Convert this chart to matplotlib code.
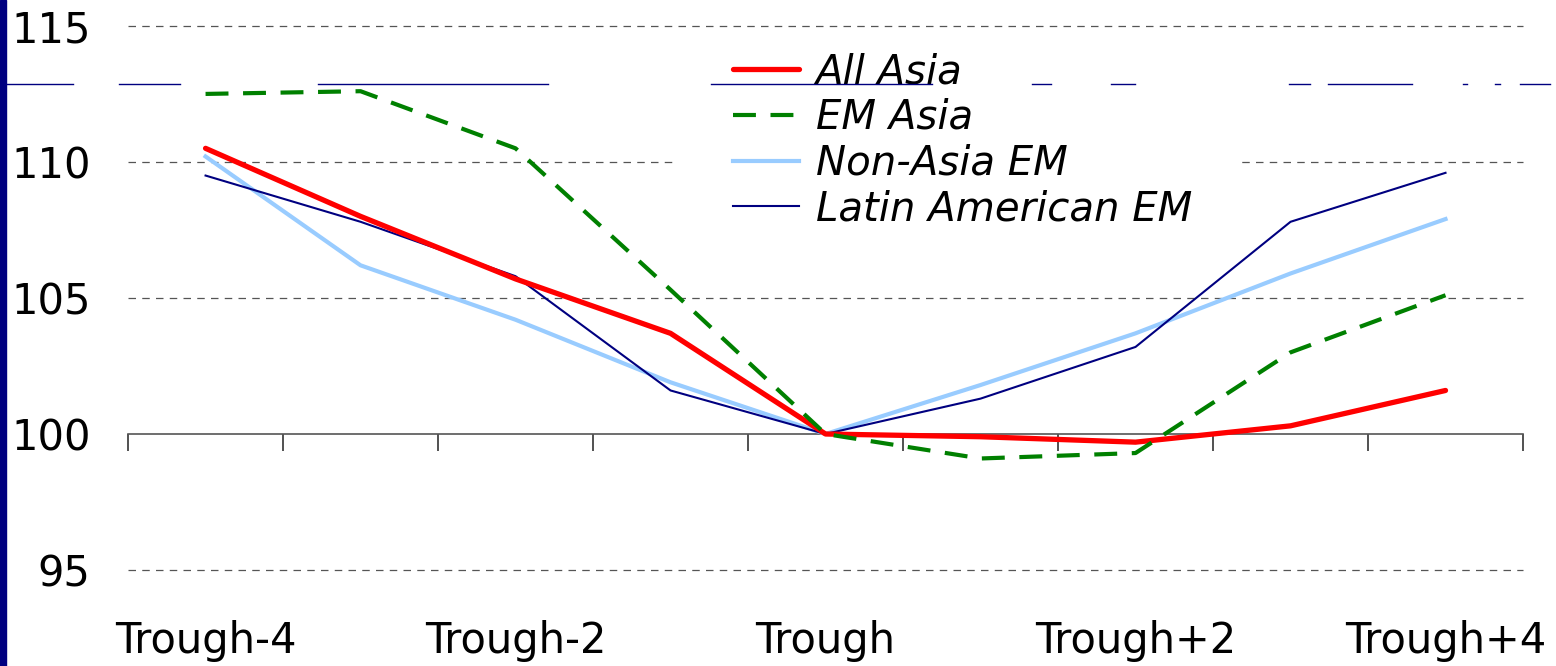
import matplotlib
matplotlib.use('Agg')
import matplotlib.pyplot as plt
import matplotlib.transforms as mtransforms
from matplotlib.lines import Line2D
from matplotlib.patches import Rectangle

periods = ['Trough-4', 'Trough-3', 'Trough-2', 'Trough-1', 'Trough',
           'Trough+1', 'Trough+2', 'Trough+3', 'Trough+4']
all_asia = [110.5, 108.0, 105.7, 103.7, 100.0, 99.9, 99.7, 100.3, 101.6]
em_asia = [112.5, 112.6, 110.5, 105.3, 100.0, 99.1, 99.3, 103.0, 105.1]
non_asia_em = [110.2, 106.2, 104.2, 101.9, 100.0, 101.8, 103.7, 105.9, 107.9]
latam_em = [109.5, 107.8, 105.8, 101.6, 100.0, 101.3, 103.2, 107.8, 109.6]
yticks = [95, 100, 105, 110, 115]

plt.rcParams['font.family'] = 'DejaVu Sans'

W, H = 1556, 666
fig = plt.figure(figsize=(W / 100, H / 100), dpi=100)
ax = fig.add_axes([0.0823, 0.1441, 0.8965, 0.817])

x = list(range(len(periods)))
ax.plot(x, non_asia_em, color='#99ccff', lw=3.0, zorder=3)
ax.plot(x, latam_em, color='#000080', lw=1.5, zorder=4)
ax.plot(x, all_asia, color='#ff0000', lw=3.8, zorder=5, solid_capstyle='round')
ax.plot(x, em_asia, color='#008000', lw=3.0, ls=(0, (5.5, 3.5)), zorder=6)

ax.set_xlim(-0.5, len(periods) - 0.5)
ax.set_ylim(95, 115)

# dashed grid, the 100 line is the category axis
for v in yticks:
    if v != 100:
        ax.axhline(v, color='#555555', lw=0.9, ls=(0, (6, 5)), zorder=1,
                   clip_on=False)

for s in ['top', 'right', 'left']:
    ax.spines[s].set_visible(False)
ax.spines['bottom'].set_position(('data', 100))
ax.spines['bottom'].set_color('#555555')
ax.spines['bottom'].set_linewidth(1.2)
ax.set_xticks([i - 0.5 for i in range(len(periods) + 1)])
ax.set_xticklabels([])
ax.tick_params(axis='x', direction='out', length=12, width=1.2, color='#333333')

ax.set_yticks(yticks)
ax.set_yticklabels([str(v) for v in yticks], fontsize=30)
ax.tick_params(axis='y', length=0, pad=27)

trans = mtransforms.blended_transform_factory(ax.transData, ax.transAxes)
for i in range(0, len(periods), 2):
    ax.text(i, -0.13, periods[i], transform=trans, ha='center', va='center',
            fontsize=30)

# white block behind the legend cuts the 110 gridline
ax.add_patch(Rectangle((676 / W, 1 - 236 / H), 564 / W, 196 / H,
                       transform=fig.transFigure, color='white',
                       zorder=2, clip_on=False))

handles = [
    Line2D([], [], color='#ff0000', lw=3.8, solid_capstyle='round'),
    Line2D([], [], color='#008000', lw=3.0, ls=(0, (5.5, 3.5))),
    Line2D([], [], color='#99ccff', lw=3.0),
    Line2D([], [], color='#000080', lw=1.5),
]
labels = ['All Asia', 'EM Asia', 'Non-Asia EM', 'Latin American EM']
leg = ax.legend(handles, labels, loc='upper left',
                bbox_to_anchor=(733 / W, 1 - 52 / H),
                bbox_transform=fig.transFigure, frameon=False,
                borderaxespad=0, borderpad=0,
                prop={'size': 29, 'style': 'italic'}, handlelength=1.65,
                handletextpad=0.4, labelspacing=0.17)
leg.set_zorder(7)

# slide decoration: navy bar on the left and a broken rule near the top
fig.patches.append(Rectangle((0, 0), 6 / W, 1, transform=fig.transFigure,
                             color='#000080', zorder=0))
rule = [(6, 73), (119, 180), (318, 548), (711, 932), (1032, 1051),
        (1111, 1135), (1289, 1310), (1328, 1412), (1463, 1467),
        (1495, 1500), (1520, 1550)]
for a, b in rule:
    fig.add_artist(Line2D([a / W, b / W], [1 - 84 / H] * 2,
                          transform=fig.transFigure, color='#000080',
                          lw=1.0, zorder=10))

fig.savefig('out.png', dpi=100, facecolor='white')
